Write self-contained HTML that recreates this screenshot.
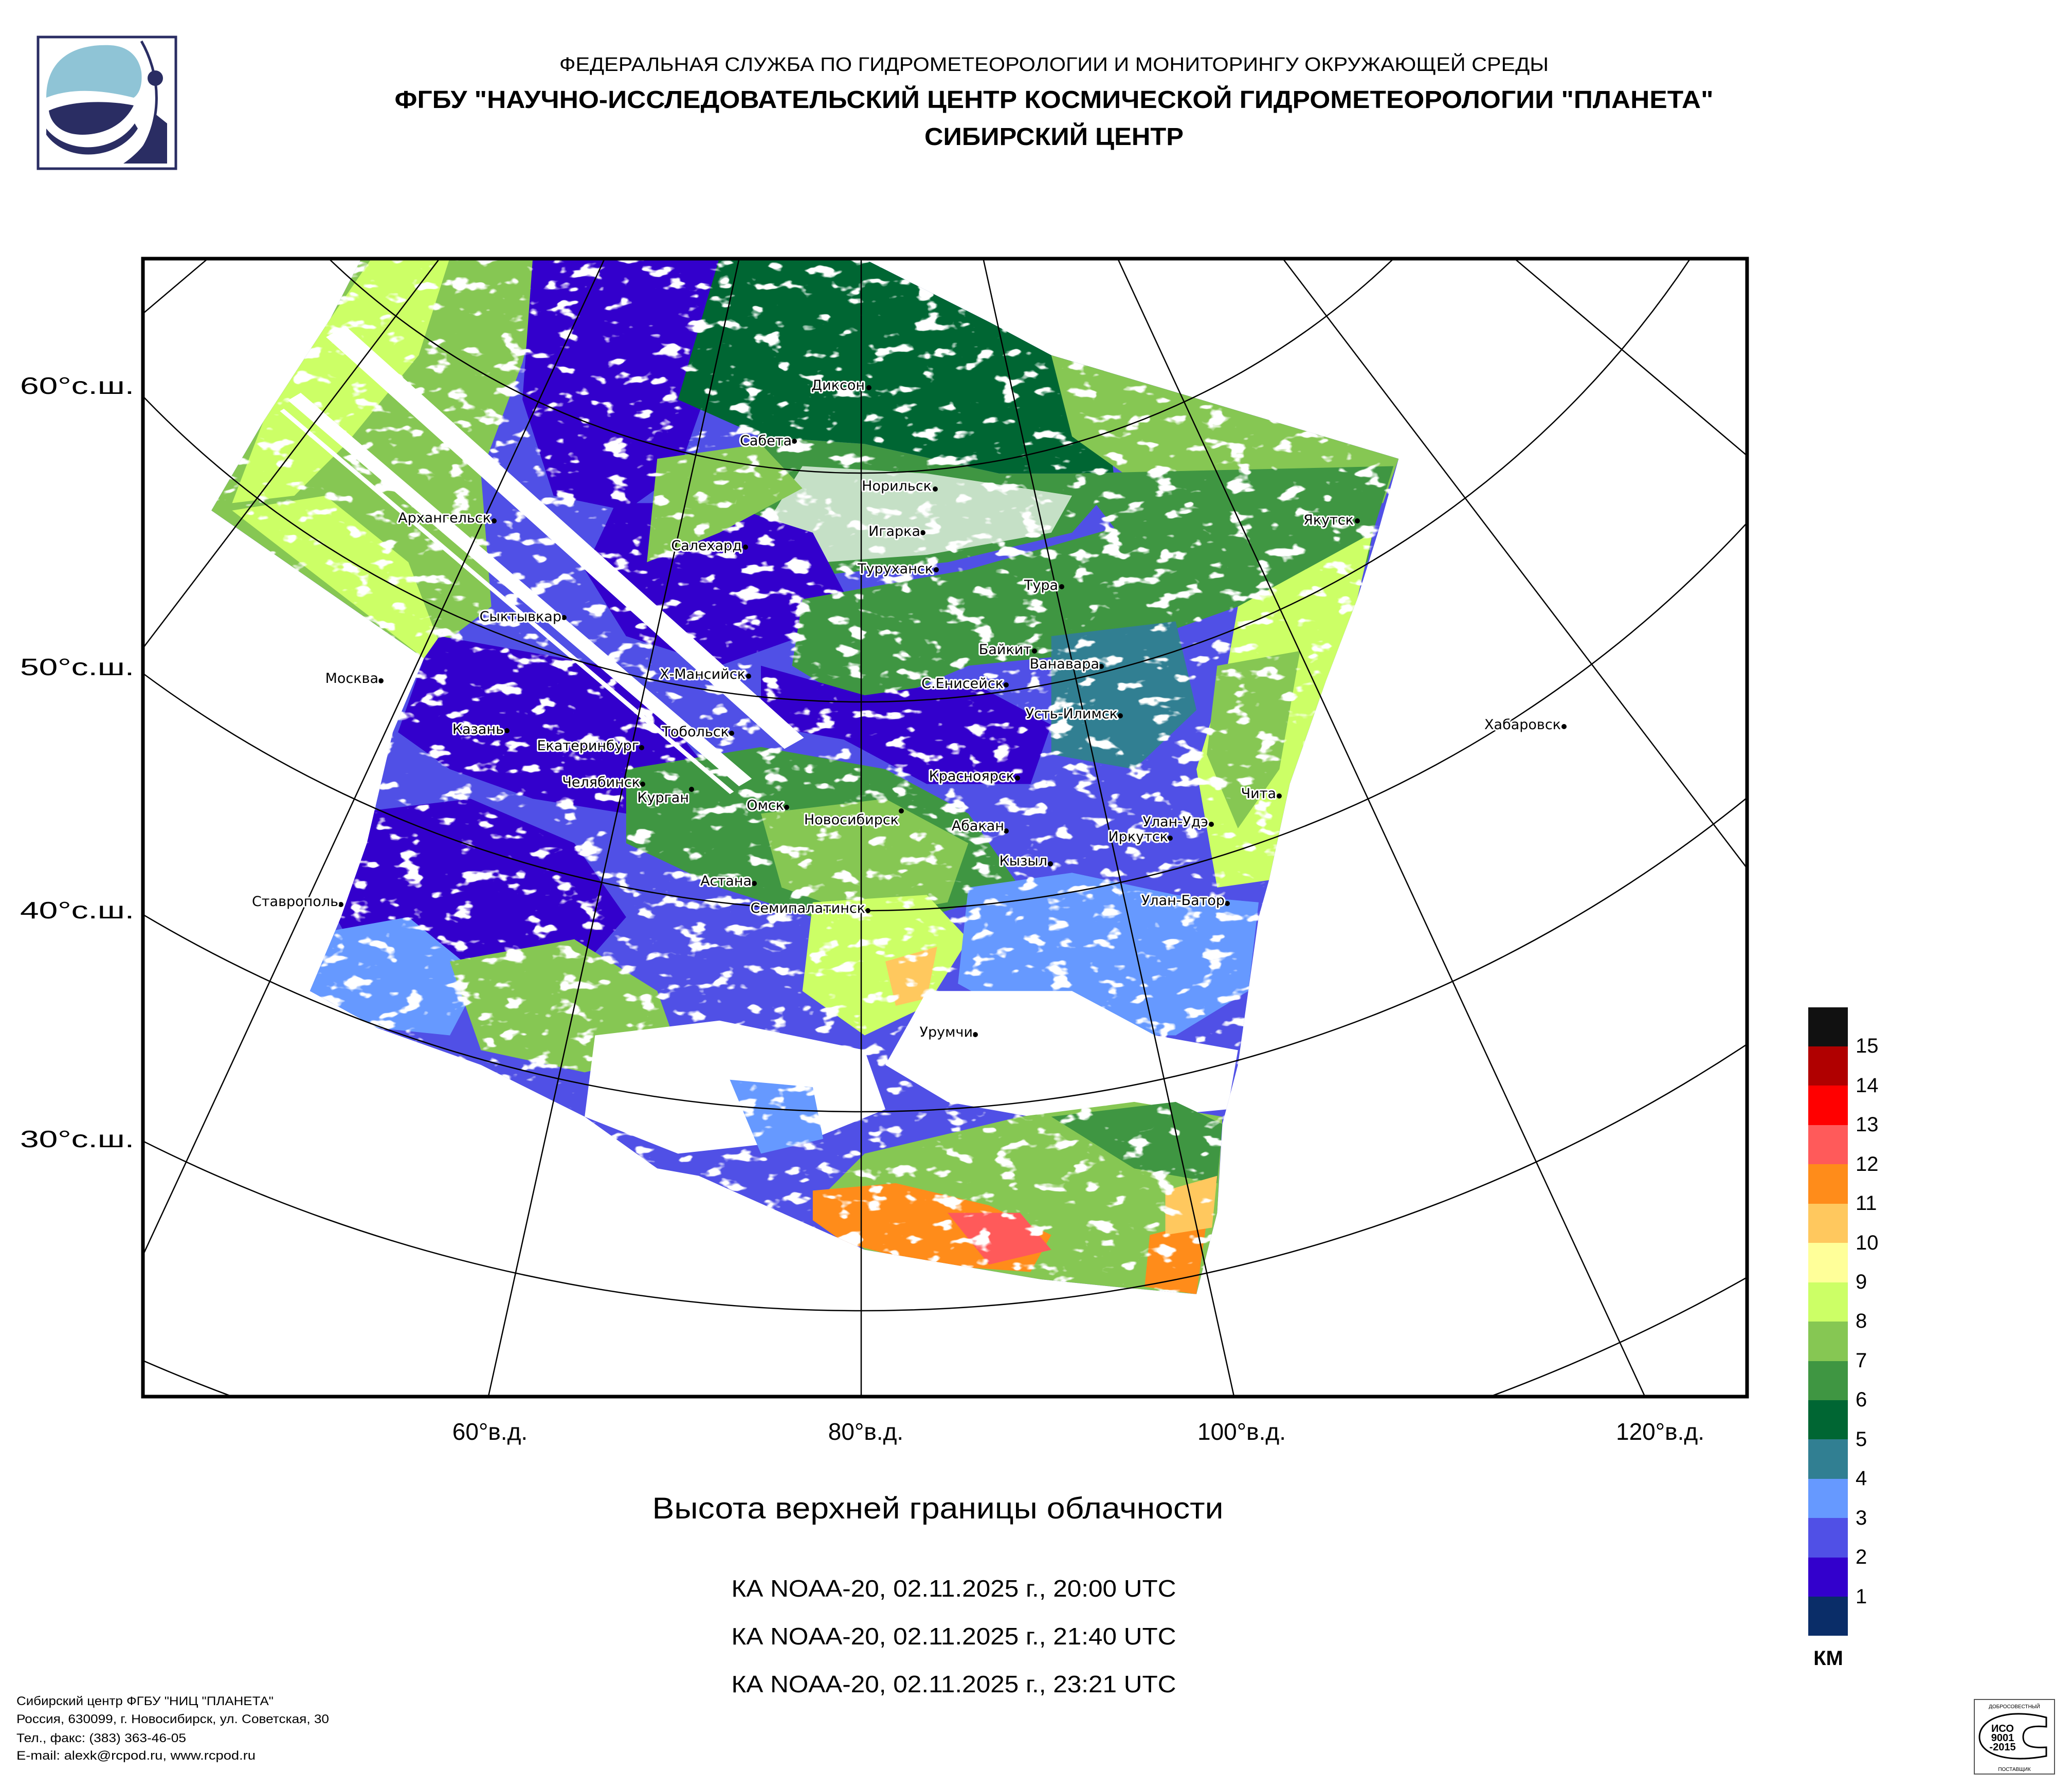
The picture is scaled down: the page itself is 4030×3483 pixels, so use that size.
<!DOCTYPE html>
<html><head><meta charset="utf-8"><style>
html,body{margin:0;padding:0;background:#fff;width:4030px;height:3483px;overflow:hidden;}
svg{display:block;}
.c{font-family:"DejaVu Sans",sans-serif;font-size:27px;fill:#000;stroke:#fff;stroke-width:6px;paint-order:stroke;stroke-linejoin:round;text-anchor:end;}
.l{font-family:"Liberation Sans",sans-serif;font-size:46px;fill:#000;}
</style></head><body>
<svg width="4030" height="3483" viewBox="0 0 4030 3483" xmlns="http://www.w3.org/2000/svg">
<defs>
<clipPath id="fr"><rect x="276" y="501" width="3124" height="2217"/></clipPath>
<clipPath id="sw"><polygon points="215,8 697,8 820,95 880,140 1000,190 1215,280 1195,380 1175,470 1145,580 1110,720 1090,850 1080,900 1060,1100 1045,1180 1040,1300 1020,1410 940,1400 870,1390 700,1350 540,1250 500,1240 430,1170 330,1100 230,1050 165,1000 195,900 220,800 245,650 275,550 70,350 120,230 185,90"/></clipPath>
<filter id="sp" filterUnits="userSpaceOnUse" x="0" y="0" width="1560" height="1560">
<feTurbulence type="fractalNoise" baseFrequency="0.04 0.055" numOctaves="3" seed="7"/>
<feColorMatrix type="matrix" values="0 0 0 0 1  0 0 0 0 1  0 0 0 0 1  0 0 0 12 -7.4"/>
</filter>
</defs>

<!-- logo -->
<rect x="74" y="72" width="268" height="256" fill="#fff" stroke="#2a2d63" stroke-width="5"/>
<path d="M90,190 C90,110 150,85 215,88 C250,90 270,110 275,140 C278,170 268,185 260,190 C200,175 140,170 90,190Z" fill="#8fc4d6"/>
<path d="M95,215 C140,195 210,195 260,205 C240,245 200,262 160,262 C120,262 98,240 95,215Z" fill="#2a2d63"/>
<path d="M90,250 C130,300 220,300 262,240 L268,250 C230,312 130,318 90,262Z" fill="#2a2d63"/>
<path d="M300,220 L325,240 L325,318 L240,318 C280,290 300,260 300,220Z" fill="#2a2d63"/>
<path d="M275,80 C315,150 315,240 270,300" fill="none" stroke="#2a2d63" stroke-width="5"/>
<circle cx="302" cy="152" r="15" fill="#2a2d63"/>

<!-- header -->
<text x="2050" y="138" text-anchor="middle" font-family="Liberation Sans, sans-serif" font-size="38" textLength="1924" lengthAdjust="spacingAndGlyphs">ФЕДЕРАЛЬНАЯ СЛУЖБА ПО ГИДРОМЕТЕОРОЛОГИИ И МОНИТОРИНГУ ОКРУЖАЮЩЕЙ СРЕДЫ</text>
<text x="2050" y="210" text-anchor="middle" font-family="Liberation Sans, sans-serif" font-weight="bold" font-size="48" textLength="2565" lengthAdjust="spacingAndGlyphs">ФГБУ "НАУЧНО-ИССЛЕДОВАТЕЛЬСКИЙ ЦЕНТР КОСМИЧЕСКОЙ ГИДРОМЕТЕОРОЛОГИИ "ПЛАНЕТА"</text>
<text x="2050" y="282" text-anchor="middle" font-family="Liberation Sans, sans-serif" font-weight="bold" font-size="48" textLength="504" lengthAdjust="spacingAndGlyphs">СИБИРСКИЙ ЦЕНТР</text>

<!-- map data -->
<svg x="276" y="501" width="3124" height="2217" viewBox="3 8 1549 1542" preserveAspectRatio="none">
<g clip-path="url(#sw)">
<rect x="0" y="0" width="1560" height="1560" fill="#5050e6"/>
<polygon points="215,8 395,8 370,150 330,300 340,480 275,550 70,350 120,230 185,90" fill="#86c753"/>
<polygon points="225,8 300,8 270,140 200,260 150,330 90,340 120,230 185,90" fill="#ccff66"/>
<polygon points="90,350 180,330 260,420 290,530 275,550" fill="#ccff66"/>
<polygon points="380,8 600,8 560,140 520,300 470,350 400,330 370,200" fill="#3300cc"/>
<polygon points="560,8 697,8 820,95 930,150 940,300 830,300 700,260 600,250 520,200" fill="#006633"/>
<polygon points="880,140 1000,190 1215,280 1200,340 1050,320 950,300 900,250" fill="#86c753"/>
<polygon points="600,250 700,260 830,300 950,300 900,380 780,420 640,440 560,400" fill="#3f9642"/>
<polygon points="640,290 760,300 900,330 880,380 760,410 660,420 600,380" fill="#ffffff" opacity="0.7"/>
<polygon points="460,340 560,340 650,380 680,460 640,520 560,560 470,520 430,430" fill="#3300cc"/>
<polygon points="500,280 600,260 640,320 560,380 490,420" fill="#86c753"/>
<polygon points="640,470 800,430 1000,350 1200,300 1185,420 1060,480 940,540 800,560 700,620 630,560" fill="#3f9642"/>
<polygon points="900,300 1210,290 1190,380 1050,400 950,390" fill="#3f9642"/>
<polygon points="1060,480 1190,380 1175,470 1140,600 1110,720 1090,850 1040,860 1020,700 1050,560" fill="#ccff66"/>
<polygon points="1040,560 1120,540 1100,700 1060,780 1030,680" fill="#86c753"/>
<polygon points="880,520 1000,500 1020,620 960,700 880,680" fill="#317f92"/>
<polygon points="290,520 450,560 520,650 560,720 470,760 380,740 300,700 250,650 275,550" fill="#3300cc"/>
<polygon points="600,560 700,600 800,580 880,640 860,720 760,720 680,660 600,640" fill="#3300cc"/>
<polygon points="470,700 600,670 720,700 800,760 850,860 760,900 650,900 560,860 470,800" fill="#3f9642"/>
<polygon points="600,760 720,740 800,800 780,880 700,900 620,860" fill="#86c753"/>
<polygon points="650,880 760,870 800,930 760,1020 700,1060 640,1000" fill="#ccff66"/>
<polygon points="720,960 770,940 760,1010 730,1020" fill="#ffc85e"/>
<polygon points="200,760 320,740 420,800 470,900 420,980 320,1000 230,1000 190,900" fill="#3300cc"/>
<polygon points="180,920 260,900 330,980 300,1060 230,1050 165,1000" fill="#6699ff"/>
<polygon points="300,960 420,930 500,1000 520,1080 430,1110 330,1080" fill="#86c753"/>
<polygon points="800,860 900,840 1000,870 1080,880 1070,1000 1000,1060 880,1060 790,990" fill="#6699ff"/>
<polygon points="760,1000 900,1000 980,1060 1060,1080 1050,1160 900,1180 780,1150 720,1100" fill="#ffffff"/>
<polygon points="440,1060 560,1040 700,1080 720,1160 650,1200 520,1220 430,1170" fill="#ffffff"/>
<polygon points="570,1120 650,1130 660,1200 600,1220" fill="#6699ff"/>
<polygon points="700,1220 850,1170 960,1150 1045,1170 1040,1300 1020,1410 940,1400 870,1390 700,1350 650,1290" fill="#86c753"/>
<polygon points="880,1170 1000,1150 1045,1180 1040,1260 960,1240" fill="#3f9642"/>
<polygon points="650,1270 730,1260 820,1290 880,1330 860,1380 760,1370 680,1340 650,1310" fill="#ff8c1a"/>
<polygon points="780,1300 850,1300 880,1350 820,1370" fill="#ff5a5a"/>
<polygon points="975,1330 1030,1310 1020,1410 970,1400" fill="#ff8c1a"/>
<polygon points="990,1270 1040,1250 1035,1320 990,1330" fill="#ffc85e"/>
<rect x="0" y="0" width="1560" height="1560" filter="url(#sp)"/>
<line x1="190" y1="108" x2="632" y2="665" stroke="#fff" stroke-width="24"/>
<line x1="150" y1="196" x2="585" y2="718" stroke="#fff" stroke-width="16"/>
<line x1="138" y1="214" x2="572" y2="732" stroke="#fff" stroke-width="5"/>
</g>
</svg>

<!-- grid -->
<g clip-path="url(#fr)" fill="none" stroke="#000" stroke-width="2.5">
<circle cx="1675" cy="-574" r="1494"/>
<circle cx="1675" cy="-574" r="1939"/>
<circle cx="1675" cy="-574" r="2345"/>
<circle cx="1675" cy="-574" r="2736"/>
<circle cx="1675" cy="-574" r="3123"/>
<circle cx="1675" cy="-574" r="3510"/>
<g id="m"><line x1="1675" y1="-574" x2="1675" y2="6000"/></g>
<use href="#m" transform="rotate(-12.43 1675 -574)"/>
<use href="#m" transform="rotate(12.43 1675 -574)"/>
<use href="#m" transform="rotate(-24.86 1675 -574)"/>
<use href="#m" transform="rotate(24.86 1675 -574)"/>
<use href="#m" transform="rotate(-37.29 1675 -574)"/>
<use href="#m" transform="rotate(37.29 1675 -574)"/>
<use href="#m" transform="rotate(-49.72 1675 -574)"/>
<use href="#m" transform="rotate(49.72 1675 -574)"/>
<use href="#m" transform="rotate(-62.15 1675 -574)"/>
<use href="#m" transform="rotate(62.15 1675 -574)"/>
</g>
<rect x="278" y="503" width="3120" height="2213" fill="none" stroke="#000" stroke-width="7"/>

<!-- cities -->
<g fill="#000">
<circle cx="1690" cy="754" r="5"/><circle cx="1545" cy="858" r="5"/><circle cx="1819" cy="951" r="5"/>
<circle cx="961" cy="1013" r="5"/><circle cx="1795" cy="1036" r="5"/><circle cx="1450" cy="1064" r="5"/>
<circle cx="1821" cy="1108" r="5"/><circle cx="2065" cy="1141" r="5"/><circle cx="2640" cy="1013" r="5"/>
<circle cx="1097" cy="1201" r="5"/><circle cx="2012" cy="1266" r="5"/><circle cx="2142" cy="1296" r="5"/>
<circle cx="741" cy="1324" r="5"/><circle cx="1456" cy="1315" r="5"/><circle cx="1957" cy="1332" r="5"/>
<circle cx="2179" cy="1392" r="5"/><circle cx="3042" cy="1413" r="5"/><circle cx="986" cy="1421" r="5"/>
<circle cx="1423" cy="1426" r="5"/><circle cx="1248" cy="1454" r="5"/><circle cx="1979" cy="1513" r="5"/>
<circle cx="1250" cy="1525" r="5"/><circle cx="1345" cy="1535" r="5"/><circle cx="2488" cy="1548" r="5"/>
<circle cx="1530" cy="1570" r="5"/><circle cx="1753" cy="1577" r="5"/><circle cx="1957" cy="1616" r="5"/>
<circle cx="2356" cy="1603" r="5"/><circle cx="2276" cy="1630" r="5"/><circle cx="2043" cy="1680" r="5"/>
<circle cx="1467" cy="1718" r="5"/><circle cx="663" cy="1759" r="5"/><circle cx="1688" cy="1771" r="5"/>
<circle cx="2387" cy="1757" r="5"/><circle cx="1897" cy="2012" r="5"/>
</g>
<text class="c" x="1682" y="758">Диксон</text>
<text class="c" x="1540" y="866">Сабета</text>
<text class="c" x="1812" y="954">Норильск</text>
<text class="c" x="955" y="1016">Архангельск</text>
<text class="c" x="1790" y="1042">Игарка</text>
<text class="c" x="1443" y="1070">Салехард</text>
<text class="c" x="1815" y="1115">Туруханск</text>
<text class="c" x="2058" y="1147">Тура</text>
<text class="c" x="2633" y="1020">Якутск</text>
<text class="c" x="1092" y="1208">Сыктывкар</text>
<text class="c" x="2006" y="1272">Байкит</text>
<text class="c" x="2138" y="1300">Ванавара</text>
<text class="c" x="736" y="1328">Москва</text>
<text class="c" x="1450" y="1320">Х-Мансийск</text>
<text class="c" x="1952" y="1338">С.Енисейск</text>
<text class="c" x="2174" y="1397">Усть-Илимск</text>
<text class="c" x="3036" y="1418">Хабаровск</text>
<text class="c" x="980" y="1427">Казань</text>
<text class="c" x="1418" y="1432">Тобольск</text>
<text class="c" x="1243" y="1459">Екатеринбург</text>
<text class="c" x="1973" y="1518">Красноярск</text>
<text class="c" x="1245" y="1530">Челябинск</text>
<text class="c" x="1340" y="1560">Курган</text>
<text class="c" x="2482" y="1552">Чита</text>
<text class="c" x="1525" y="1575">Омск</text>
<text class="c" x="1748" y="1603">Новосибирск</text>
<text class="c" x="1953" y="1615">Абакан</text>
<text class="c" x="2350" y="1607">Улан-Удэ</text>
<text class="c" x="2272" y="1636">Иркутск</text>
<text class="c" x="2037" y="1683">Кызыл</text>
<text class="c" x="1462" y="1722">Астана</text>
<text class="c" x="658" y="1762">Ставрополь</text>
<text class="c" x="1683" y="1775">Семипалатинск</text>
<text class="c" x="2382" y="1760">Улан-Батор</text>
<text class="c" x="1892" y="2016">Урумчи</text>

<!-- axis labels -->
<text class="l" x="39" y="766" textLength="222" lengthAdjust="spacingAndGlyphs">60°с.ш.</text>
<text class="l" x="39" y="1313" textLength="222" lengthAdjust="spacingAndGlyphs">50°с.ш.</text>
<text class="l" x="39" y="1786" textLength="222" lengthAdjust="spacingAndGlyphs">40°с.ш.</text>
<text class="l" x="39" y="2231" textLength="222" lengthAdjust="spacingAndGlyphs">30°с.ш.</text>
<text class="l" x="953" y="2800" text-anchor="middle">60°в.д.</text>
<text class="l" x="1684" y="2800" text-anchor="middle">80°в.д.</text>
<text class="l" x="2415" y="2800" text-anchor="middle">100°в.д.</text>
<text class="l" x="3229" y="2800" text-anchor="middle">120°в.д.</text>

<!-- titles -->
<text x="1824" y="2953" text-anchor="middle" font-family="Liberation Sans, sans-serif" font-size="58" textLength="1111" lengthAdjust="spacingAndGlyphs">Высота верхней границы облачности</text>
<text x="1855" y="3105" text-anchor="middle" font-family="Liberation Sans, sans-serif" font-size="46" textLength="865" lengthAdjust="spacingAndGlyphs">КА NOAA-20, 02.11.2025 г., 20:00 UTC</text>
<text x="1855" y="3198" text-anchor="middle" font-family="Liberation Sans, sans-serif" font-size="46" textLength="865" lengthAdjust="spacingAndGlyphs">КА NOAA-20, 02.11.2025 г., 21:40 UTC</text>
<text x="1855" y="3291" text-anchor="middle" font-family="Liberation Sans, sans-serif" font-size="46" textLength="865" lengthAdjust="spacingAndGlyphs">КА NOAA-20, 02.11.2025 г., 23:21 UTC</text>

<!-- colorbar -->
<g>
<rect x="3517" y="1959" width="77" height="77" fill="#111111"/>
<rect x="3517" y="2035" width="77" height="77" fill="#b00000"/>
<rect x="3517" y="2111" width="77" height="77" fill="#ff0000"/>
<rect x="3517" y="2188" width="77" height="77" fill="#ff5a5a"/>
<rect x="3517" y="2264" width="77" height="77" fill="#ff8c1a"/>
<rect x="3517" y="2341" width="77" height="77" fill="#ffc85e"/>
<rect x="3517" y="2417" width="77" height="77" fill="#ffff99"/>
<rect x="3517" y="2494" width="77" height="77" fill="#ccff66"/>
<rect x="3517" y="2570" width="77" height="77" fill="#86c753"/>
<rect x="3517" y="2647" width="77" height="77" fill="#3f9642"/>
<rect x="3517" y="2723" width="77" height="77" fill="#006633"/>
<rect x="3517" y="2799" width="77" height="77" fill="#317f92"/>
<rect x="3517" y="2876" width="77" height="77" fill="#6699ff"/>
<rect x="3517" y="2952" width="77" height="77" fill="#5050e6"/>
<rect x="3517" y="3029" width="77" height="77" fill="#3300cc"/>
<rect x="3517" y="3105" width="77" height="76" fill="#0a2d68"/>
</g>
<g font-family="Liberation Sans, sans-serif" font-size="40" fill="#000">
<text x="3609" y="2047">15</text><text x="3609" y="2124">14</text><text x="3609" y="2200">13</text>
<text x="3609" y="2277">12</text><text x="3609" y="2353">11</text><text x="3609" y="2430">10</text>
<text x="3609" y="2506">9</text><text x="3609" y="2582">8</text><text x="3609" y="2659">7</text>
<text x="3609" y="2735">6</text><text x="3609" y="2812">5</text><text x="3609" y="2888">4</text>
<text x="3609" y="2965">3</text><text x="3609" y="3041">2</text><text x="3609" y="3118">1</text>
<text x="3556" y="3238" text-anchor="middle" font-weight="bold">КМ</text>
</g>

<!-- footer -->
<g font-family="Liberation Sans, sans-serif" font-size="24" fill="#000">
<text x="32" y="3316" textLength="500" lengthAdjust="spacingAndGlyphs">Сибирский центр ФГБУ "НИЦ "ПЛАНЕТА"</text>
<text x="32" y="3351" textLength="608" lengthAdjust="spacingAndGlyphs">Россия, 630099, г. Новосибирск, ул. Советская, 30</text>
<text x="32" y="3388" textLength="330" lengthAdjust="spacingAndGlyphs">Тел., факс: (383) 363-46-05</text>
<text x="32" y="3422" textLength="465" lengthAdjust="spacingAndGlyphs">E-mail: alexk@rcpod.ru, www.rcpod.ru</text>
</g>

<!-- ISO -->
<rect x="3840" y="3305" width="156" height="145" fill="#fff" stroke="#555" stroke-width="2"/>
<path d="M3980,3340 C3900,3320 3850,3345 3850,3378 C3850,3410 3900,3430 3980,3415 L3980,3398 C3950,3400 3935,3395 3935,3378 C3935,3360 3950,3355 3980,3358Z" fill="none" stroke="#000" stroke-width="3"/>
<g font-family="Liberation Sans, sans-serif" font-weight="bold" font-size="20" fill="#000" text-anchor="middle">
<text x="3895" y="3368">ИСО</text><text x="3895" y="3386">9001</text><text x="3895" y="3404">-2015</text>
</g>
<text x="3918" y="3322" font-family="Liberation Sans, sans-serif" font-size="10" text-anchor="middle">ДОБРОСОВЕСТНЫЙ</text>
<text x="3918" y="3444" font-family="Liberation Sans, sans-serif" font-size="10" text-anchor="middle">ПОСТАВЩИК</text>
</svg>
</body></html>
